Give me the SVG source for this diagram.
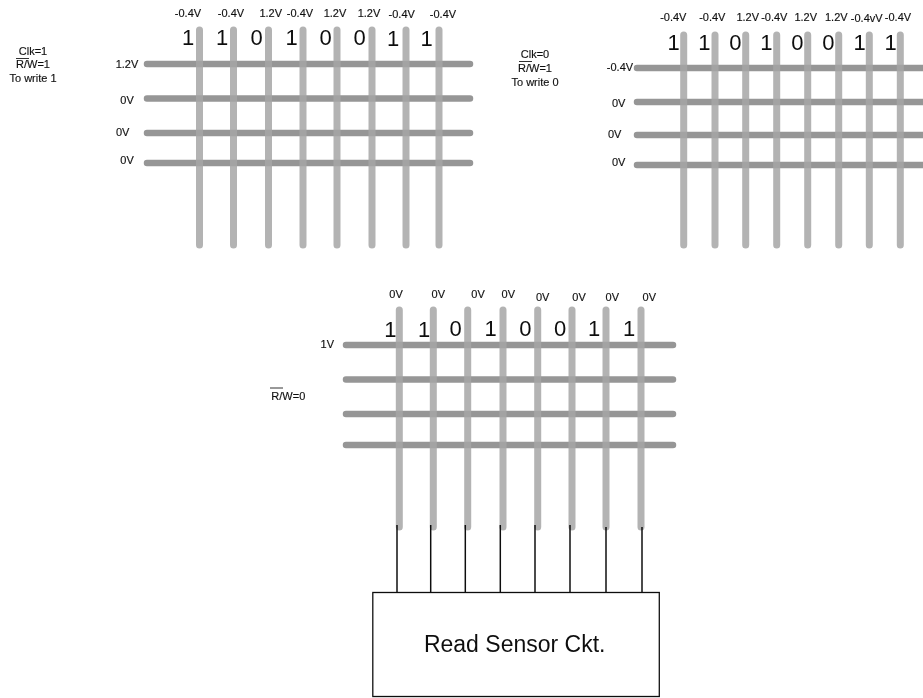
<svg xmlns="http://www.w3.org/2000/svg" width="923" height="698" viewBox="0 0 923 698">
<style>
text{font-family:"Liberation Sans",Arial,sans-serif;fill:#111;text-anchor:middle}
.s{font-size:11px;stroke:#111;stroke-width:.15}
.d{font-size:22px}
.h{stroke:#969696;stroke-width:6.500;stroke-linecap:round;fill:none}
.v{stroke:#a6a6a6;stroke-width:7;stroke-linecap:round;fill:none;opacity:.85}
.o{stroke:#333;stroke-width:1;fill:none}
.w{stroke:#111;stroke-width:1.500;fill:none}
</style>
<defs><filter id="b" x="-5%" y="-5%" width="110%" height="110%"><feGaussianBlur stdDeviation="0.4"/></filter></defs>
<rect width="923" height="698" fill="#fff"/>
<g filter="url(#b)">
<g id="connectors">
<path class="h" d="M147 64H470M147 98.500H470M147 133H470M147 163H470"/>
<path class="v" d="M199.500 30V245M233.500 30V245M268.500 30V245M303 30V245M337 30V245M372 30V245M406 30V245M439 30V245"/>
<path class="h" d="M637 68H926M637 102H926M637 135H926M637 165H926"/>
<path class="v" d="M683.700 35V245M715 35V245M745.700 35V245M776.700 35V245M807.700 35V245M838.700 35V245M869.300 35V245M900.300 35V245"/>
<path class="h" d="M346 345H673M346 379.500H673M346 414H673M346 445H673"/>
<path class="v" d="M399.300 310V527M433.300 310V527M467.700 310V527M503 310V527M537.700 310V527M572 310V527M606 310V527M641 310V527"/>
<path class="w" d="M397 525V592M430.700 525V592M465.300 525V592M500.300 525V592M535 525V592M570 525V592M606 527V592M642 527V592"/>
</g>
<g id="array-write-1">
<g class="s"><text x="188" y="17">-0.4V</text><text x="231" y="17">-0.4V</text><text x="270.700" y="17">1.2V</text><text x="300" y="17">-0.4V</text><text x="335" y="17">1.2V</text><text x="369" y="17">1.2V</text><text x="401.700" y="18">-0.4V</text><text x="443" y="18">-0.4V</text></g>
<g class="d"><text x="188" y="45">1</text><text x="222" y="45">1</text><text x="256.700" y="45">0</text><text x="291.700" y="45">1</text><text x="325.700" y="45">0</text><text x="359.700" y="45">0</text><text x="393" y="46">1</text><text x="426.700" y="46">1</text></g>
<g class="s"><text x="127" y="68">1.2V</text><text x="127" y="104">0V</text><text x="122.700" y="136">0V</text><text x="127" y="164">0V</text></g>
<g class="s"><text x="33" y="54.500">Clk=1</text><text x="33" y="68">R/W=1</text><text x="33" y="82">To write 1</text></g>
<path class="o" d="M16 58.500H29"/>
</g>
<g id="array-write-0">
<g class="s"><text x="673.300" y="21">-0.4V</text><text x="712.300" y="21">-0.4V</text><text x="747.700" y="21">1.2V</text><text x="774.300" y="21">-0.4V</text><text x="805.700" y="21">1.2V</text><text x="836.300" y="21">1.2V</text><text x="866.700" y="22">-0.4vV</text><text x="898" y="21">-0.4V</text></g>
<g class="d"><text x="673.700" y="50">1</text><text x="704.300" y="50">1</text><text x="735.300" y="50">0</text><text x="766.300" y="50">1</text><text x="797.300" y="50">0</text><text x="828.300" y="50">0</text><text x="859.700" y="50">1</text><text x="890.700" y="50">1</text></g>
<g class="s"><text x="620" y="71">-0.4V</text><text x="618.700" y="106.500">0V</text><text x="614.700" y="138">0V</text><text x="618.700" y="165.500">0V</text></g>
<g class="s"><text x="535" y="58">Clk=0</text><text x="535" y="72">R/W=1</text><text x="535" y="85.500">To write 0</text></g>
<path class="o" d="M519 61.500H532"/>
</g>
<g id="array-read">
<g class="s"><text x="396" y="298">0V</text><text x="438.300" y="298">0V</text><text x="478" y="298">0V</text><text x="508.300" y="298">0V</text><text x="542.700" y="300.500">0V</text><text x="579" y="300.500">0V</text><text x="612.300" y="300.500">0V</text><text x="649.300" y="300.500">0V</text></g>
<g class="d"><text x="390.300" y="337">1</text><text x="424" y="337">1</text><text x="455.700" y="336">0</text><text x="490.700" y="336">1</text><text x="525.300" y="336">0</text><text x="560" y="336">0</text><text x="594" y="335.500">1</text><text x="629" y="335.500">1</text></g>
<text class="s" x="327.300" y="347.500">1V</text>
<text class="s" x="288.300" y="400">R/W=0</text>
<path class="o" d="M270 388H283"/>
</g>
<g id="read-sensor">
<rect x="372.800" y="592.500" width="286.500" height="104" fill="#fff" stroke="#111" stroke-width="1.300"/>
<text x="514.700" y="652" font-size="23">Read Sensor Ckt.</text>
</g>
</g>
</svg>
